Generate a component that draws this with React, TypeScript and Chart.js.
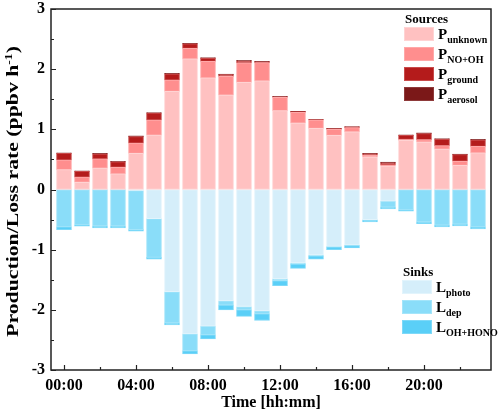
import React, { useEffect, useRef } from "react";
import { Chart, registerables } from "chart.js";

Chart.register(...registerables);

// ---- data ----
const hours = [0, 1, 2, 3, 4, 5, 6, 7, 8, 9, 10, 11, 12, 13, 14, 15, 16, 17, 18, 19, 20, 21, 22, 23];
const hourLabels = ["00:00", "01:00", "02:00", "03:00", "04:00", "05:00", "06:00", "07:00", "08:00", "09:00", "10:00", "11:00", "12:00", "13:00", "14:00", "15:00", "16:00", "17:00", "18:00", "19:00", "20:00", "21:00", "22:00", "23:00"];
const xTickValues = [0, 2, 4, 6, 8, 10, 12, 14, 16, 18, 20, 22];
const xLabelEvery = 4;
const yTickValues = [-3, -2.5, -2, -1.5, -1, -0.5, 0, 0.5, 1, 1.5, 2, 2.5, 3];

// Sources (positive)
const pUnknown = [0.33, 0.12, 0.355, 0.26, 0.6, 0.905, 1.63, 2.17, 1.855, 1.57, 1.78, 1.805, 1.31, 1.105, 1.017, 0.9, 0.96, 0.54, 0.39, 0.817, 0.79, 0.67, 0.4, 0.61];
const pNoOh = [0.16, 0.085, 0.155, 0.11, 0.17, 0.25, 0.19, 0.175, 0.275, 0.31, 0.325, 0.305, 0.22, 0.178, 0.138, 0.1, 0.068, 0.032, 0.02, 0.016, 0.04, 0.06, 0.07, 0.107];
const pGround = [0.11, 0.095, 0.08, 0.09, 0.11, 0.115, 0.1, 0.075, 0.05, 0.03, 0.03, 0.01, 0.01, 0.012, 0.008, 0.012, 0.012, 0.02, 0.035, 0.067, 0.1, 0.105, 0.11, 0.106];
const pAerosol = [0.01, 0.01, 0.01, 0.01, 0.01, 0.01, 0.01, 0.01, 0.012, 0.01, 0.01, 0.01, 0.01, 0.005, 0.004, 0.005, 0.005, 0.008, 0.01, 0.01, 0.01, 0.01, 0.01, 0.01];

// Sinks (negative)
const lPhoto = [0, 0, 0, 0, -0.02, -0.483, -1.7, -2.4, -2.272, -1.85, -1.944, -2.017, -1.483, -1.222, -1.089, -0.944, -0.922, -0.5, -0.194, 0, 0, 0, 0, 0];
const lDep = [-0.62, -0.59, -0.606, -0.606, -0.647, -0.645, -0.517, -0.283, -0.145, -0.072, -0.056, -0.05, -0.034, -0.017, -0.017, -0.012, -0.011, -0.01, -0.1, -0.339, -0.539, -0.594, -0.578, -0.622];
const lOhHono = [-0.047, -0.02, -0.034, -0.034, -0.027, -0.032, -0.033, -0.05, -0.066, -0.078, -0.11, -0.111, -0.083, -0.072, -0.05, -0.044, -0.039, -0.029, -0.028, -0.022, -0.028, -0.028, -0.028, -0.034];

const sourceSeries = [
  { main: "P", sub: "unknown", data: pUnknown, color: "#FFC1C1", edge: "#FFD3D3" },
  { main: "P", sub: "NO+OH", data: pNoOh, color: "#FF8E8E", edge: "#FFA8A8" },
  { main: "P", sub: "ground", data: pGround, color: "#B41B1B", edge: "#C84A4A" },
  { main: "P", sub: "aerosol", data: pAerosol, color: "#7B1818", edge: "#8E3A3A" },
];
const sinkSeries = [
  { main: "L", sub: "photo", data: lPhoto, color: "#D5EEFA", edge: "#E2F4FC" },
  { main: "L", sub: "dep", data: lDep, color: "#8ADDF9", edge: "#A4E5FA" },
  { main: "L", sub: "OH+HONO", data: lOhHono, color: "#5ACFF7", edge: "#7ED9F8" },
];

const FONT = "'Liberation Serif', 'Times New Roman', serif";

const decorPlugin = {
  id: "decor",
  afterDraw(chart: any) {
    const { ctx, chartArea: a, scales } = chart;
    const xs = scales.x;
    const ys = scales.y;
    ctx.save();
    // frame
    ctx.strokeStyle = "#222";
    ctx.lineWidth = 1.5;
    ctx.strokeRect(a.left, a.top, a.right - a.left, a.bottom - a.top);
    // inward ticks
    ctx.lineWidth = 1.2;
    ctx.beginPath();
    yTickValues.forEach((v) => {
      const py = Math.round(ys.getPixelForValue(v)) + 0.5;
      const len = Number.isInteger(v) ? 5 : 3;
      ctx.moveTo(a.left, py);
      ctx.lineTo(a.left + len, py);
    });
    xTickValues.forEach((v) => {
      const px = Math.round(xs.getPixelForValue(v)) + 0.5;
      const len = v % xLabelEvery === 0 ? 5 : 3;
      ctx.moveTo(px, a.bottom);
      ctx.lineTo(px, a.bottom - len);
    });
    ctx.stroke();

    // axis titles
    ctx.fillStyle = "#000";
    ctx.textBaseline = "middle";
    const tFont = `bold 16px ${FONT}`;
    const supFont = `bold 10px ${FONT}`;
    ctx.font = tFont;
    ctx.textAlign = "center";
    ctx.fillText("Time [hh:mm]", (a.left + a.right) / 2, a.bottom + 33);

    ctx.save();
    ctx.translate(14, (a.top + a.bottom) / 2 + 2);
    ctx.rotate(-Math.PI / 2);
    ctx.scale(1.36, 1);
    const mainT = "Production/Loss rate (ppbv h";
    const supT = "-1";
    const endT = ")";
    ctx.font = tFont;
    const w1 = ctx.measureText(mainT).width;
    const w3 = ctx.measureText(endT).width;
    ctx.font = supFont;
    const w2 = ctx.measureText(supT).width;
    let sx = -(w1 + w2 + w3) / 2;
    ctx.textAlign = "left";
    ctx.font = tFont;
    ctx.fillText(mainT, sx, 0);
    sx += w1;
    ctx.font = supFont;
    ctx.fillText(supT, sx, -5);
    sx += w2;
    ctx.font = tFont;
    ctx.fillText(endT, sx, 0);
    ctx.restore();

    // legends
    const drawGroup = (title: string, series: any[], left: number, top: number) => {
      ctx.textAlign = "left";
      ctx.textBaseline = "alphabetic";
      ctx.font = `bold 13px ${FONT}`;
      ctx.fillStyle = "#000";
      ctx.fillText(title, left + 1, top);
      series.forEach((s, i) => {
        const by = top + 4 + i * 20;
        ctx.fillStyle = s.color;
        ctx.fillRect(left, by, 30, 14);
        ctx.strokeStyle = s.edge;
        ctx.lineWidth = 1;
        ctx.strokeRect(left + 0.5, by + 0.5, 29, 13);
        ctx.fillStyle = "#000";
        ctx.font = `bold 15px ${FONT}`;
        ctx.fillText(s.main, left + 34, by + 11.5);
        const mw = ctx.measureText(s.main).width;
        ctx.font = `bold 10px ${FONT}`;
        ctx.fillText(s.sub, left + 34 + mw, by + 15.5);
      });
    };
    drawGroup("Sources", sourceSeries, a.right - 87, a.top + 14);
    drawGroup("Sinks", sinkSeries, a.right - 89, a.bottom - 94);
    ctx.restore();
  },
};

export default function App() {
  const ref = useRef<HTMLCanvasElement | null>(null);
  useEffect(() => {
    if (!ref.current) return;
    const mk = (s: any) => ({
      label: s.main + s.sub,
      data: hours.map((h, i) => ({ x: h, y: s.data[i] })),
      backgroundColor: s.color,
      borderColor: s.edge,
      borderWidth: 1,
      borderSkipped: false,
      barThickness: 15,
      stack: "all",
    });
    const chart = new Chart(ref.current, {
      type: "bar",
      data: {
        datasets: [...sourceSeries.map(mk), ...sinkSeries.map(mk)],
      },
      options: {
        animation: false,
        responsive: false,
        layout: { padding: { top: 9, right: 9, left: 0, bottom: 0 } },
        plugins: { legend: { display: false }, tooltip: { enabled: false } },
        scales: {
          x: {
            type: "linear",
            stacked: true,
            offset: false,
            min: -0.722,
            max: 23.722,
            grid: { display: false, drawTicks: false, tickLength: 0, offset: false },
            border: { display: false },
            afterBuildTicks: (s: any) => {
              s.ticks = xTickValues.map((value) => ({ value }));
            },
            afterFit: (s: any) => {
              s.height = 47;
              s.paddingLeft = 0;
              s.paddingRight = 0;
            },
            ticks: {
              autoSkip: false,
              maxRotation: 0,
              padding: 6,
              color: "#000",
              font: { family: FONT, size: 16, weight: "bold" },
              callback: (v: any) => (v % xLabelEvery === 0 ? hourLabels[hours.indexOf(v)] : ""),
            },
          },
          y: {
            stacked: true,
            min: -3,
            max: 3,
            grid: { display: false, drawTicks: false, tickLength: 0 },
            border: { display: false },
            afterBuildTicks: (s: any) => {
              s.ticks = yTickValues.map((value) => ({ value }));
            },
            afterFit: (s: any) => {
              s.width = 51;
              s.paddingTop = 0;
              s.paddingBottom = 0;
            },
            ticks: {
              autoSkip: false,
              padding: 6,
              color: "#000",
              font: { family: FONT, size: 16, weight: "bold" },
              callback: (v: any) => (Number.isInteger(v) ? String(v) : ""),
            },
          },
        },
      },
      plugins: [decorPlugin],
    } as any);
    return () => chart.destroy();
  }, []);
  return (
    <div style={{ position: "fixed", left: 0, top: 0, width: 500, height: 417, background: "#fff" }}>
      <canvas ref={ref} width={500} height={417} style={{ display: "block" }} />
    </div>
  );
}
